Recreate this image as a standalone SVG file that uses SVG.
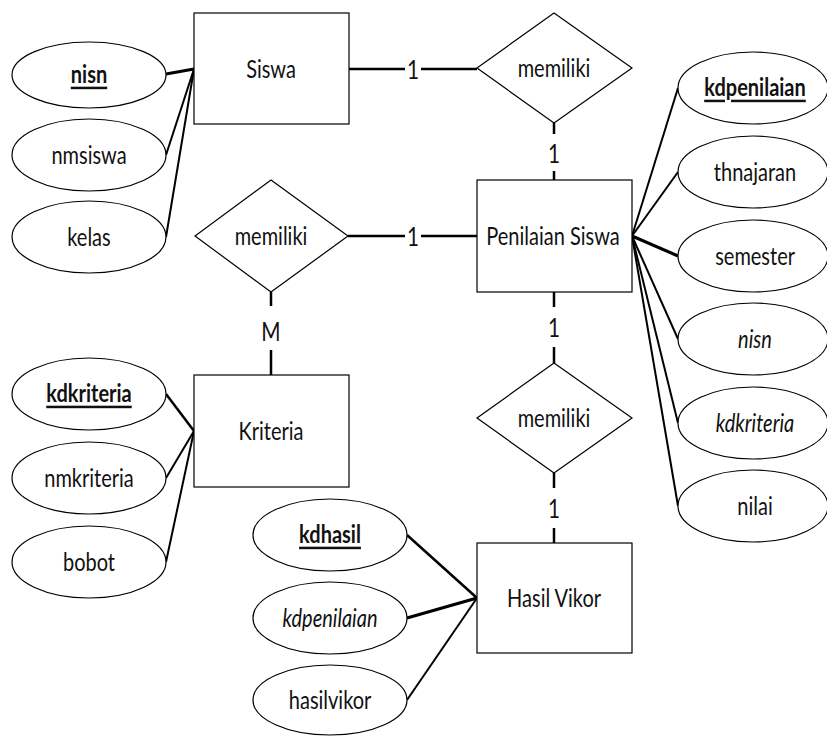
<svg xmlns="http://www.w3.org/2000/svg" width="827" height="736" viewBox="0 0 827 736">
  <style>
    .shape { fill: #ffffff; stroke: #000000; stroke-width: 1.2; }
    .rel { stroke: #000000; stroke-width: 2.5; fill: none; }
    .attr { stroke: #000000; stroke-width: 2; fill: none; }
    text { font-family: Lato, "Liberation Sans", sans-serif; font-size: 25px; fill: #111111; text-anchor: middle; dominant-baseline: central;
           transform-box: fill-box; transform-origin: center; transform: scaleX(0.8); }
    .key { font-weight: bold; text-decoration: underline; }
    .fk { font-style: italic; }
    .card { font-size: 26px; }
  </style>

  <!-- connectors -->
  <g id="connectors">
    <!-- Siswa attributes -->
    <line class="attr" x1="166" y1="74" x2="194" y2="69" style="stroke-width:3"/>
    <line class="attr" x1="166" y1="155" x2="194" y2="69"/>
    <line class="attr" x1="166" y1="237" x2="194" y2="69"/>
    <!-- Kriteria attributes -->
    <line class="attr" x1="166" y1="394" x2="194" y2="431" style="stroke-width:2.5"/>
    <line class="attr" x1="166" y1="478" x2="194" y2="431"/>
    <line class="attr" x1="166" y1="562" x2="194" y2="431"/>
    <!-- Penilaian Siswa attributes -->
    <line class="attr" x1="632" y1="236" x2="678" y2="88"/>
    <line class="attr" x1="632" y1="236" x2="678" y2="172"/>
    <line class="attr" x1="632" y1="236" x2="678" y2="256" style="stroke-width:3"/>
    <line class="attr" x1="632" y1="236" x2="678" y2="339"/>
    <line class="attr" x1="632" y1="236" x2="678" y2="423"/>
    <line class="attr" x1="632" y1="236" x2="678" y2="506"/>
    <!-- Hasil Vikor attributes -->
    <line class="attr" x1="407" y1="535" x2="477" y2="598" style="stroke-width:2.5"/>
    <line class="attr" x1="407" y1="618" x2="477" y2="598" style="stroke-width:3"/>
    <line class="attr" x1="407" y1="700" x2="477" y2="598"/>

    <!-- Siswa - memiliki -->
    <line class="rel" x1="349" y1="69" x2="405" y2="69"/>
    <line class="rel" x1="421" y1="69" x2="477" y2="69"/>
    <text class="card" x="413" y="69">1</text>
    <!-- memiliki - Penilaian Siswa -->
    <line class="rel" x1="554" y1="123" x2="554" y2="134"/>
    <line class="rel" x1="554" y1="171" x2="554" y2="180"/>
    <text class="card" x="554" y="153">1</text>
    <!-- memiliki (Kriteria) - Penilaian Siswa -->
    <line class="rel" x1="348" y1="236" x2="405" y2="236"/>
    <line class="rel" x1="421" y1="236" x2="477" y2="236"/>
    <text class="card" x="413" y="236">1</text>
    <!-- memiliki - Kriteria -->
    <line class="rel" x1="271" y1="292" x2="271" y2="306"/>
    <line class="rel" x1="271" y1="350" x2="271" y2="375"/>
    <text class="card" x="271" y="331">M</text>
    <!-- Penilaian Siswa - memiliki -->
    <line class="rel" x1="554" y1="292" x2="554" y2="307"/>
    <line class="rel" x1="554" y1="347" x2="554" y2="363"/>
    <text class="card" x="554" y="327">1</text>
    <!-- memiliki - Hasil Vikor -->
    <line class="rel" x1="554" y1="473" x2="554" y2="488"/>
    <line class="rel" x1="554" y1="528" x2="554" y2="543"/>
    <text class="card" x="554" y="508">1</text>
  </g>

  <!-- entities -->
  <g id="siswa">
    <rect class="shape" x="194" y="13" width="155" height="111"/>
    <text x="271" y="69">Siswa</text>
  </g>
  <g id="penilaian-siswa">
    <rect class="shape" x="477" y="180" width="155" height="112"/>
    <text x="553" y="236">Penilaian Siswa</text>
  </g>
  <g id="kriteria">
    <rect class="shape" x="194" y="375" width="155" height="112"/>
    <text x="271" y="431">Kriteria</text>
  </g>
  <g id="hasil-vikor">
    <rect class="shape" x="477" y="543" width="155" height="110"/>
    <text x="554" y="598">Hasil Vikor</text>
  </g>

  <!-- relationships -->
  <g id="rel-siswa-penilaian">
    <polygon class="shape" points="554,13 632,68 554,123 477,68"/>
    <text x="554" y="68">memiliki</text>
  </g>
  <g id="rel-kriteria-penilaian">
    <polygon class="shape" points="271,180 348,236 271,292 195,236"/>
    <text x="271" y="236">memiliki</text>
  </g>
  <g id="rel-penilaian-hasil">
    <polygon class="shape" points="554,363 632,418 554,473 477,418"/>
    <text x="554" y="418">memiliki</text>
  </g>

  <!-- Siswa attributes -->
  <g id="attr-siswa-nisn">
    <ellipse class="shape" cx="89" cy="75" rx="77" ry="33"/>
    <text class="key" x="89" y="74">nisn</text>
  </g>
  <g id="attr-siswa-nmsiswa">
    <ellipse class="shape" cx="89" cy="155" rx="77" ry="36"/>
    <text x="89" y="155">nmsiswa</text>
  </g>
  <g id="attr-siswa-kelas">
    <ellipse class="shape" cx="89" cy="237" rx="77" ry="36"/>
    <text x="89" y="237">kelas</text>
  </g>

  <!-- Kriteria attributes -->
  <g id="attr-kriteria-kdkriteria">
    <ellipse class="shape" cx="89" cy="394" rx="77" ry="36"/>
    <text class="key" x="89" y="393">kdkriteria</text>
  </g>
  <g id="attr-kriteria-nmkriteria">
    <ellipse class="shape" cx="89" cy="478" rx="77" ry="36"/>
    <text x="89" y="478">nmkriteria</text>
  </g>
  <g id="attr-kriteria-bobot">
    <ellipse class="shape" cx="89" cy="562" rx="77" ry="36"/>
    <text x="89" y="562">bobot</text>
  </g>

  <!-- Penilaian Siswa attributes -->
  <g id="attr-penilaian-kdpenilaian">
    <ellipse class="shape" cx="753" cy="88" rx="75" ry="36"/>
    <text class="key" x="755" y="87">kdpenilaian</text>
  </g>
  <g id="attr-penilaian-thnajaran">
    <ellipse class="shape" cx="753" cy="172" rx="75" ry="36"/>
    <text x="755" y="172">thnajaran</text>
  </g>
  <g id="attr-penilaian-semester">
    <ellipse class="shape" cx="753" cy="256" rx="75" ry="36"/>
    <text x="755" y="256">semester</text>
  </g>
  <g id="attr-penilaian-nisn">
    <ellipse class="shape" cx="753" cy="339" rx="75" ry="36"/>
    <text class="fk" x="755" y="339">nisn</text>
  </g>
  <g id="attr-penilaian-kdkriteria">
    <ellipse class="shape" cx="753" cy="423" rx="75" ry="36"/>
    <text class="fk" x="755" y="423">kdkriteria</text>
  </g>
  <g id="attr-penilaian-nilai">
    <ellipse class="shape" cx="753" cy="506" rx="75" ry="36"/>
    <text x="755" y="506">nilai</text>
  </g>

  <!-- Hasil Vikor attributes -->
  <g id="attr-hasil-kdhasil">
    <ellipse class="shape" cx="330" cy="535" rx="77" ry="36"/>
    <text class="key" x="330" y="534">kdhasil</text>
  </g>
  <g id="attr-hasil-kdpenilaian">
    <ellipse class="shape" cx="330" cy="618" rx="77" ry="36"/>
    <text class="fk" x="330" y="618">kdpenilaian</text>
  </g>
  <g id="attr-hasil-hasilvikor">
    <ellipse class="shape" cx="330" cy="700" rx="77" ry="35"/>
    <text x="330" y="700">hasilvikor</text>
  </g>
</svg>
